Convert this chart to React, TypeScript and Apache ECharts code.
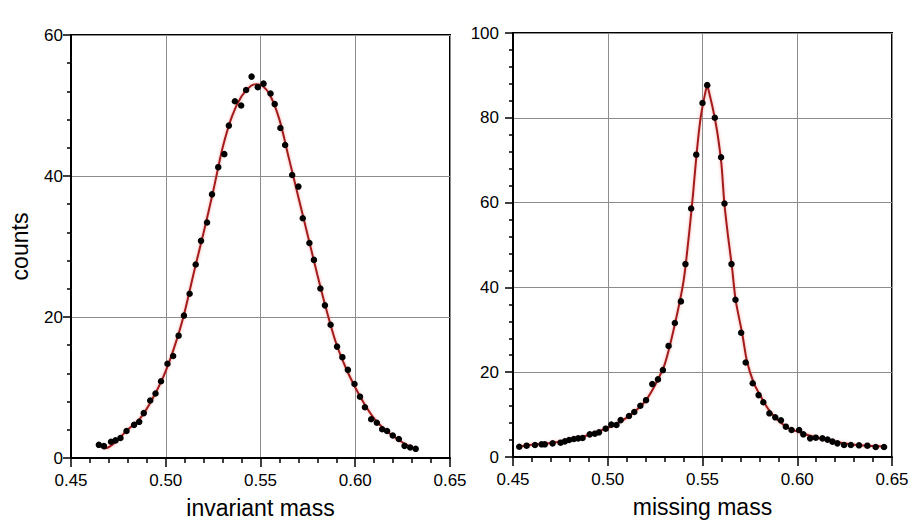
import React, { useEffect, useRef } from "react";
import * as echarts from "echarts";

// ---- invariant mass (left panel) ----
const invX = [0.4647,0.4674,0.4711,0.4735,0.4761,0.4793,0.4833,0.486,0.4884,0.4918,0.4946,0.4975,0.5009,0.5039,0.5068,0.5096,0.5126,0.5158,0.5186,0.5218,0.5244,0.5277,0.5309,0.5333,0.5365,0.5398,0.5424,0.5453,0.5486,0.5516,0.5553,0.5575,0.5605,0.563,0.5667,0.57,0.5723,0.5758,0.5782,0.5816,0.584,0.587,0.5904,0.5932,0.5961,0.5996,0.6025,0.6051,0.6084,0.6114,0.6142,0.6168,0.6198,0.623,0.626,0.629,0.6319];
const invY = [1.87,1.68,2.3,2.5,2.83,3.83,4.7,5.13,6.37,8.15,9.15,10.88,13.37,14.47,17.35,20.2,23.3,27.45,30.8,33.4,37.4,41.25,43.1,47.15,50.6,50.0,52.2,54.1,52.6,53.1,51.7,50.2,46.8,44.4,40.15,38.5,34.0,30.5,28.1,24.05,21.65,18.9,15.8,14.3,12.5,10.5,8.7,7.2,5.5,5.0,4.07,3.83,3.2,2.7,1.72,1.49,1.3];
const invFitX = [0.4644,0.468,0.4723,0.4794,0.4864,0.4926,0.4987,0.504,0.5093,0.515,0.520,0.525,0.530,0.535,0.540,0.545,0.548,0.551,0.555,0.560,0.565,0.570,0.575,0.580,0.585,0.590,0.595,0.600,0.605,0.610,0.615,0.620,0.625,0.630,0.633];
const invFitY = [2.08,1.37,1.98,3.88,5.6,8.2,11.5,15.3,20.0,26.5,32.0,37.8,44.0,48.5,51.3,52.8,53.0,52.8,51.5,48.0,42.5,37.0,31.5,26.0,20.8,16.2,12.8,10.0,7.6,5.6,4.2,3.1,2.2,1.5,1.2];

// ---- missing mass (right panel) ----
const mmX = [0.4533,0.4572,0.4616,0.4651,0.4668,0.4709,0.4751,0.4774,0.4796,0.4821,0.4844,0.4867,0.4905,0.4932,0.4954,0.4989,0.5019,0.5046,0.5068,0.5112,0.514,0.5172,0.5202,0.5235,0.5265,0.5291,0.5321,0.5354,0.5386,0.541,0.544,0.5467,0.55,0.5525,0.5565,0.5598,0.5616,0.5653,0.5674,0.5704,0.5728,0.5765,0.5796,0.5821,0.5853,0.5884,0.5914,0.594,0.597,0.601,0.6032,0.6068,0.6098,0.6133,0.616,0.6186,0.6212,0.6247,0.6283,0.6326,0.637,0.6414,0.6458];
const mmY = [2.43,2.67,2.83,2.99,2.99,3.22,3.38,3.69,4.0,4.24,4.4,4.48,5.34,5.5,5.82,6.68,7.63,7.55,8.7,9.67,10.6,12.1,13.4,17.2,18.3,20.5,26.2,31.6,36.7,45.5,58.6,71.3,83.5,87.7,80.0,70.7,59.8,45.5,37.1,29.3,22.3,17.4,14.6,12.9,10.3,9.36,8.65,7.15,6.37,6.37,5.35,4.4,4.56,4.4,4.1,3.62,3.22,2.83,2.83,2.75,2.67,2.36,2.36];
const mmFitX = [0.453,0.460,0.470,0.480,0.490,0.500,0.505,0.510,0.515,0.520,0.525,0.530,0.535,0.540,0.543,0.545,0.547,0.549,0.5515,0.5525,0.554,0.556,0.558,0.560,0.5615,0.5635,0.5655,0.5675,0.571,0.5735,0.577,0.580,0.583,0.586,0.590,0.595,0.600,0.610,0.620,0.630,0.640,0.647];
const mmFitY = [2.4,2.9,3.3,4.1,5.2,6.9,7.9,9.3,11.0,13.3,17.0,21.8,30.5,41.5,53,62,72,80,86,87.5,85,81,76,69,60,52,45,37,29,22.5,17.5,14.9,12.5,10.5,8.6,6.9,6.0,4.6,3.6,2.9,2.6,2.4];

const xTicks = { min: 0.45, max: 0.65, interval: 0.05 };
const leftYTicks = { min: 0, max: 60, interval: 20 };
const rightYTicks = { min: 0, max: 100, interval: 20 };
const xNames = ["invariant mass", "missing mass"];
const yName = "counts";

const zip = (a: number[], b: number[]) => a.map((v, i) => [v, b[i]]);
const FONT = "'Liberation Sans', Arial, sans-serif";

function xAxis(idx: number) {
  return {
    type: "value",
    gridIndex: idx,
    min: xTicks.min,
    max: xTicks.max,
    interval: xTicks.interval,
    name: xNames[idx],
    nameLocation: "middle",
    nameGap: 38,
    nameTextStyle: { fontFamily: FONT, fontSize: 23, color: "#000" },
    axisLine: { show: true, lineStyle: { color: "#000", width: 2 } },
    axisTick: { show: true, inside: false, length: 9, lineStyle: { color: "#000", width: 1.5 } },
    minorTick: { show: true, splitNumber: 5, length: 5, lineStyle: { color: "#000", width: 1.5 } },
    splitLine: { show: true, lineStyle: { color: "#8c8c8c", width: 1 } },
    axisLabel: {
      fontFamily: FONT,
      fontSize: 17,
      color: "#000",
      margin: 14,
      formatter: (v: number) => v.toFixed(2),
    },
  };
}

function yAxis(idx: number, t: { min: number; max: number; interval: number }, margin: number) {
  return {
    type: "value",
    gridIndex: idx,
    min: t.min,
    max: t.max,
    interval: t.interval,
    name: idx === 0 ? yName : "",
    nameLocation: "middle",
    nameGap: 40,
    nameTextStyle: { fontFamily: FONT, fontSize: 23, color: "#000" },
    axisLine: { show: true, lineStyle: { color: "#000", width: 2 } },
    axisTick: { show: true, inside: false, length: 8, lineStyle: { color: "#000", width: 1.5 } },
    minorTick: { show: true, splitNumber: 5, length: 4, lineStyle: { color: "#000", width: 1.5 } },
    splitLine: { show: true, lineStyle: { color: "#8c8c8c", width: 1 } },
    axisLabel: { fontFamily: FONT, fontSize: 17, color: "#000", margin },
  };
}

const fitStyle = {
  color: "#a31c1c",
  width: 2,
  shadowColor: "rgba(240,90,90,0.55)",
  shadowBlur: 3,
};

const dotStyle = { color: "#000", opacity: 1 };

export default function App() {
  const ref = useRef<HTMLDivElement>(null);
  useEffect(() => {
    document.body.style.margin = "0";
    if (!ref.current) return;
    const chart = echarts.init(ref.current, undefined, { renderer: "svg" });
    chart.setOption({
      animation: false,
      backgroundColor: "#fff",
      grid: [
        { left: 71, top: 35, width: 379, height: 423, show: true, borderColor: "#000", borderWidth: 2, backgroundColor: "transparent" },
        { left: 513, top: 33, width: 379, height: 424, show: true, borderColor: "#000", borderWidth: 2, backgroundColor: "transparent" },
      ],
      xAxis: [xAxis(0), xAxis(1)],
      yAxis: [yAxis(0, leftYTicks, 8), yAxis(1, rightYTicks, 14)],
      series: [
        {
          type: "line",
          xAxisIndex: 0,
          yAxisIndex: 0,
          data: zip(invFitX, invFitY),
          smooth: 0.3,
          showSymbol: false,
          lineStyle: fitStyle,
          z: 2,
        },
        {
          type: "scatter",
          xAxisIndex: 0,
          yAxisIndex: 0,
          data: zip(invX, invY),
          symbol: "circle",
          symbolSize: 6.5,
          itemStyle: dotStyle,
          z: 3,
        },
        {
          type: "line",
          xAxisIndex: 1,
          yAxisIndex: 1,
          data: zip(mmFitX, mmFitY),
          smooth: 0.25,
          showSymbol: false,
          lineStyle: fitStyle,
          z: 2,
        },
        {
          type: "scatter",
          xAxisIndex: 1,
          yAxisIndex: 1,
          data: zip(mmX, mmY),
          symbol: "circle",
          symbolSize: 6.5,
          itemStyle: dotStyle,
          z: 3,
        },
      ],
    });
    return () => chart.dispose();
  }, []);
  return <div ref={ref} style={{ width: 924, height: 529 }} />;
}
